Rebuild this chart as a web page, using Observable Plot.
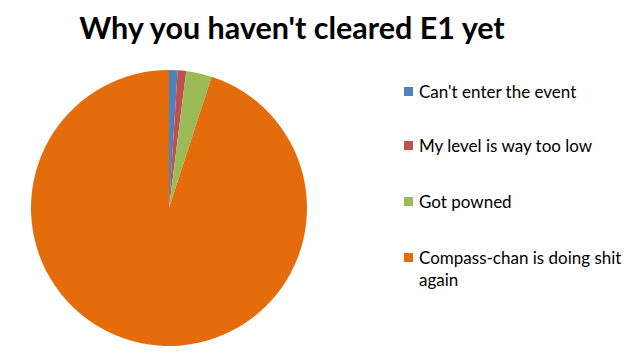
<!DOCTYPE html>
<html><head><meta charset="utf-8">
<script src="https://cdn.jsdelivr.net/npm/d3@7"></script>
<script src="https://cdn.jsdelivr.net/npm/@observablehq/plot@0.6"></script>
<style>
body{margin:0;background:#fff;}
#wrap{position:relative;width:640px;height:352px;overflow:hidden;font-family:Lato,"Open Sans",sans-serif;}
#title{position:absolute;left:0;width:584px;top:9px;text-align:center;font-weight:bold;font-size:30.5px;color:#000;}
#legend{position:absolute;left:404px;top:0;width:236px;}
.item{position:absolute;left:0;font-size:17px;color:#000;line-height:22px;width:230px;}
.sw{position:absolute;left:0;top:6px;width:9px;height:9px;}
.lab{position:absolute;left:15px;width:212px;}
</style></head>
<body><div id="wrap"><div id="title">Why you haven't cleared E1 yet</div><div id="legend"></div></div>
<script>
const categories = ["Can't enter the event","My level is way too low","Got powned","Compass-chan is doing shit again"];
const values = [1, 1, 3, 95];
const colors = ["#4F81BD","#C0504D","#9BBB59","#E46C0A"];

const data = categories.map((c,i)=>({category:c, value:values[i]}));
const pie = d3.pie().sort(null).value(d=>d.value)(data);

const pieMark = (index, scales, values_, dimensions) => {
  const cx = scales.x(0), cy = scales.y(0), r = scales.x(1) - scales.x(0);
  const g = d3.create("svg:g").attr("transform", `translate(${cx},${cy})`);
  const arc = d3.arc().innerRadius(0).outerRadius(r);
  g.selectAll("path").data(pie).join("path")
    .attr("d", arc)
    .attr("fill", d => scales.color(d.data.category));
  return g.node();
};

const chart = Plot.plot({
  width: 640, height: 352,
  margin: 0,
  x: {domain: [-1, 1], range: [31, 307], axis: null},
  y: {domain: [-1, 1], range: [346, 70], axis: null},
  color: {domain: categories, range: colors},
  marks: [pieMark]
});
chart.style.position = "absolute";
chart.style.left = "0"; chart.style.top = "0";
document.getElementById("wrap").prepend(chart);

const tops = [81, 135, 191, 247];
const leg = document.getElementById("legend");
categories.forEach((c,i)=>{
  const it = document.createElement("div");
  it.className = "item"; it.style.top = tops[i] + "px";
  it.innerHTML = `<div class="sw" style="background:${colors[i]}"></div><div class="lab"></div>`;
  it.querySelector(".lab").textContent = c;
  leg.appendChild(it);
});
</script></body></html>
